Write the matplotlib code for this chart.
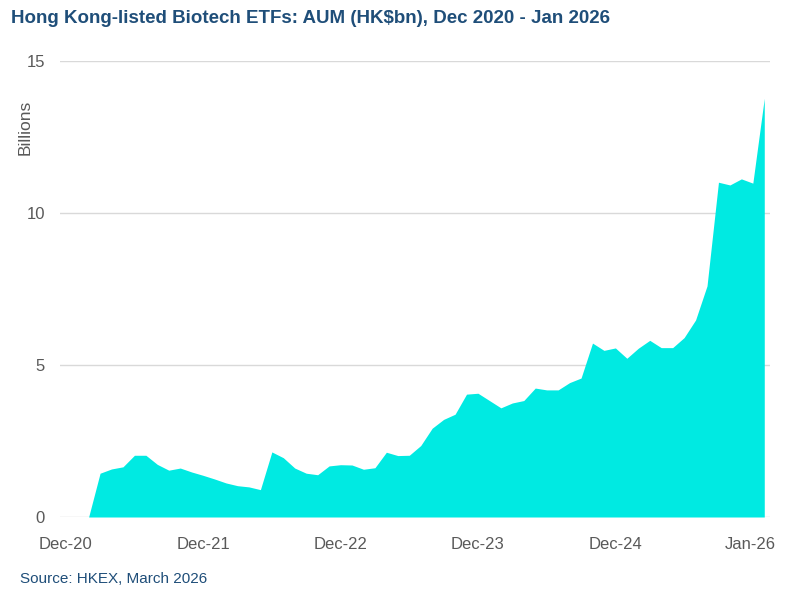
import matplotlib
matplotlib.use("Agg")
import matplotlib.pyplot as plt
import matplotlib.transforms as mtransforms
import numpy as np

# Monthly AUM, HK$bn, Dec 2020 .. Jan 2026 (62 months)
months = ["Dec-20"] + \
    [f"{m}-{y}" for y in range(21, 26) for m in
     ["Jan", "Feb", "Mar", "Apr", "May", "Jun", "Jul", "Aug", "Sep", "Oct", "Nov", "Dec"]] + \
    ["Jan-26"]

aum = [
    0.00, 0.00, 0.00, 1.44, 1.58, 1.65, 2.03, 2.03, 1.73, 1.54,
    1.61, 1.48, 1.37, 1.25, 1.12, 1.03, 0.99, 0.90, 2.14, 1.95,
    1.61, 1.44, 1.39, 1.68, 1.72, 1.71, 1.57, 1.62, 2.13, 2.02,
    2.03, 2.35, 2.92, 3.21, 3.38, 4.04, 4.07, 3.83, 3.59, 3.75,
    3.83, 4.24, 4.18, 4.18, 4.42, 4.57, 5.72, 5.48, 5.56, 5.22,
    5.55, 5.81, 5.57, 5.57, 5.90, 6.48, 7.60, 11.01, 10.92, 11.12,
    10.98, 13.77,
]

tick_labels = ["Dec-20", "Dec-21", "Dec-22", "Dec-23", "Dec-24", "Jan-26"]
y_ticks = [0, 5, 10, 15]

title = "Hong Kong-listed Biotech ETFs: AUM (HK$bn), Dec 2020 - Jan 2026"
source = "Source: HKEX, March 2026"

navy = "#1F4E79"
grey_txt = "#595959"
fill_col = "#00EAE2"

plt.rcParams['font.family'] = ['Liberation Sans', 'DejaVu Sans']

fig = plt.figure(figsize=(8.0, 5.97), dpi=100)
ax = fig.add_axes([0.075, 0.134, 0.8875, 0.764])

x = np.arange(len(aum))
ax.fill_between(x, 0, aum, color=fill_col, linewidth=0, zorder=2)

ax.set_xlim(-0.5, len(aum) - 0.5)
ax.set_ylim(0, 15)

ax.set_yticks(y_ticks)
ax.set_yticklabels([str(v) for v in y_ticks])
ax.grid(axis='y', color='#D9D9D9', linewidth=1.0, zorder=0)
ax.set_axisbelow(True)

tick_pos = [months.index(t) for t in tick_labels]
ax.set_xticks(tick_pos)
ax.set_xticklabels(tick_labels)

for s in ax.spines.values():
    s.set_visible(False)
ax.tick_params(axis='both', length=0, labelsize=12, colors=grey_txt)
ax.tick_params(axis='y', pad=10.8)
ax.tick_params(axis='x', pad=14.5)

# last label sits a bit left of its category, as in the source chart
last = ax.get_xticklabels()[-1]
last.set_transform(last.get_transform() + mtransforms.ScaledTranslation(-14 / 100, 0, fig.dpi_scale_trans))

ax.set_ylabel("Billions", fontsize=12.5, color=grey_txt)
ax.yaxis.set_label_coords(-0.039, 0.855)

fig.text(0.014, 0.969, title, fontsize=13.5, fontweight='bold', color=navy, ha='left', va='center')
fig.text(0.025, 0.030, source, fontsize=11, color=navy, ha='left', va='center')

fig.savefig("out.png", dpi=100)
